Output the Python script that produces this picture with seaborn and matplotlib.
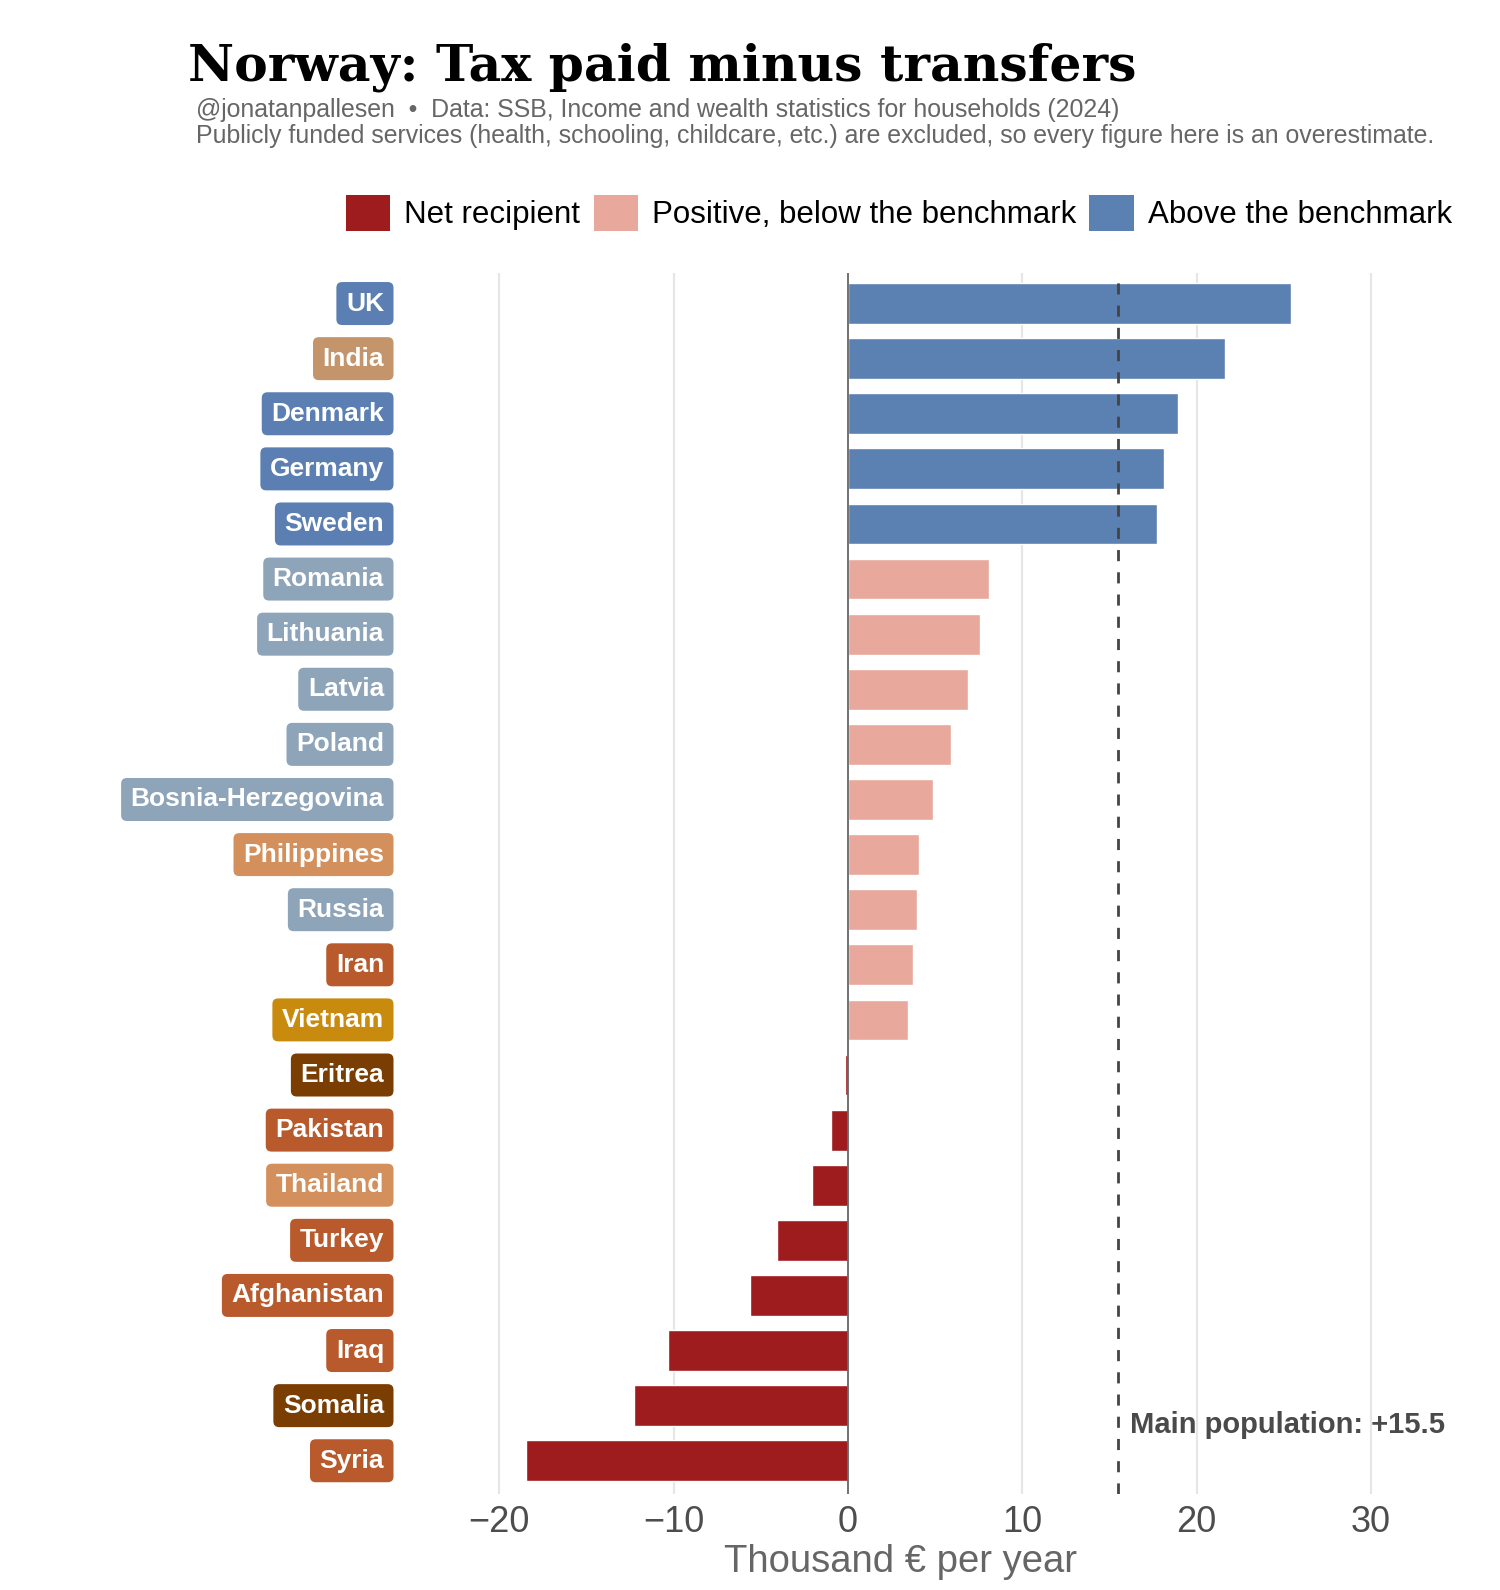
import numpy as np
import pandas as pd
import matplotlib
matplotlib.use("Agg")
import matplotlib.pyplot as plt
import seaborn as sns
from matplotlib.patches import Patch
from matplotlib.transforms import blended_transform_factory

countries = ["UK", "India", "Denmark", "Germany", "Sweden", "Romania", "Lithuania",
             "Latvia", "Poland", "Bosnia-Herzegovina", "Philippines", "Russia", "Iran",
             "Vietnam", "Eritrea", "Pakistan", "Thailand", "Turkey", "Afghanistan",
             "Iraq", "Somalia", "Syria"]
values = [25.4, 21.6, 18.9, 18.1, 17.7, 8.1, 7.6, 6.9, 5.9, 4.9, 4.1, 3.95, 3.7,
          3.45, -0.15, -1.0, -2.05, -4.1, -5.6, -10.3, -12.3, -18.45]
benchmark = 15.5
groups = ["Above the benchmark"] * 5 + ["Positive, below the benchmark"] * 9 + ["Net recipient"] * 8
label_colors = ["#5b7fb2", "#c4956a", "#5b7fb2", "#5b7fb2", "#5b7fb2", "#8ea4b9", "#8ea4b9",
                "#8ea4b9", "#8ea4b9", "#8ea4b9", "#d4905c", "#8ea4b9", "#b85a2c",
                "#c98b0e", "#7a3d02", "#b85a2c", "#d4905c", "#b85a2c", "#b85a2c",
                "#b85a2c", "#7a3d02", "#b85a2c"]
group_colors = {"Net recipient": "#9e1b1e",
                "Positive, below the benchmark": "#e8a89c",
                "Above the benchmark": "#5b80b2"}

df = pd.DataFrame({"country": countries, "value": values, "group": groups})

sns.set_theme(style="white")
plt.rcParams["font.family"] = ["Liberation Sans", "DejaVu Sans"]

fig = plt.figure(figsize=(15, 15.9), dpi=100)
ax = fig.add_axes([0.298, 0.0605, 0.6567, 0.768])

sns.barplot(data=df, x="value", y="country", hue="group", palette=group_colors,
            order=countries, dodge=False, width=0.74, legend=False, ax=ax,
            saturation=1)

ax.set_xlim(-23, 33.5)
ax.set_ylim(21.6, -0.56)
for g in [-20, -10, 10, 20, 30]:
    ax.axvline(g, color="#e6e6e6", lw=1.6, zorder=0)
ax.axvline(0, color="#666666", lw=1.3, zorder=3)
ax.axvline(benchmark, color="#444444", lw=2, linestyle=(0, (4, 4)), zorder=4)

ax.text(benchmark + 0.7, 20.35, "Main population: +15.5", fontsize=21, fontweight="bold",
        color="#4a4a4a", va="center", ha="left")

for s in ax.spines.values():
    s.set_visible(False)
ax.set_yticks([])
ax.set_ylabel("")
ax.set_xticks([-20, -10, 0, 10, 20, 30])
ax.tick_params(axis="x", length=0, pad=8, labelsize=26, labelcolor="#4d4d4d")
ax.set_xlabel("Thousand € per year", fontsize=27.5, color="#666666")
ax.xaxis.set_label_coords((900 - 447) / 985, -0.041)

trans = blended_transform_factory(fig.transFigure, ax.transData)
for i, (name, col) in enumerate(zip(countries, label_colors)):
    ax.text(384 / 1500, i, name, transform=trans, ha="right", va="center",
            fontsize=19, fontweight="bold", color="white",
            bbox=dict(boxstyle="round,pad=0.36,rounding_size=0.22", fc=col, ec="none"))

fig.text(0.125, 1 - 80 / 1590, "Norway: Tax paid minus transfers", fontsize=36.3,
         fontweight="bold", family="DejaVu Serif", color="black",
         va="baseline", ha="left")
fig.text(0.1307, 1 - 110 / 1590,
         "@jonatanpallesen  •  Data: SSB, Income and wealth statistics for households (2024)",
         fontsize=17.9, color="#666666", va="center", ha="left")
fig.text(0.1307, 1 - 136.5 / 1590,
         "Publicly funded services (health, schooling, childcare, etc.) are excluded, so every figure here is an overestimate.",
         fontsize=17.9, color="#666666", va="center", ha="left")

legend_order = ["Net recipient", "Positive, below the benchmark", "Above the benchmark"]
handles = [Patch(facecolor=group_colors[k], edgecolor="none", label=k) for k in legend_order]
fig.legend(handles=handles, loc="center right", bbox_to_anchor=(1452 / 1500, 1 - 213 / 1590),
           ncol=3, frameon=False, fontsize=22.5, handlelength=1.42, handleheight=1.42,
           handletextpad=0.45, columnspacing=0.42, borderpad=0, borderaxespad=0,
           labelcolor="black")

fig.savefig("out.png", dpi=100, facecolor="white")
